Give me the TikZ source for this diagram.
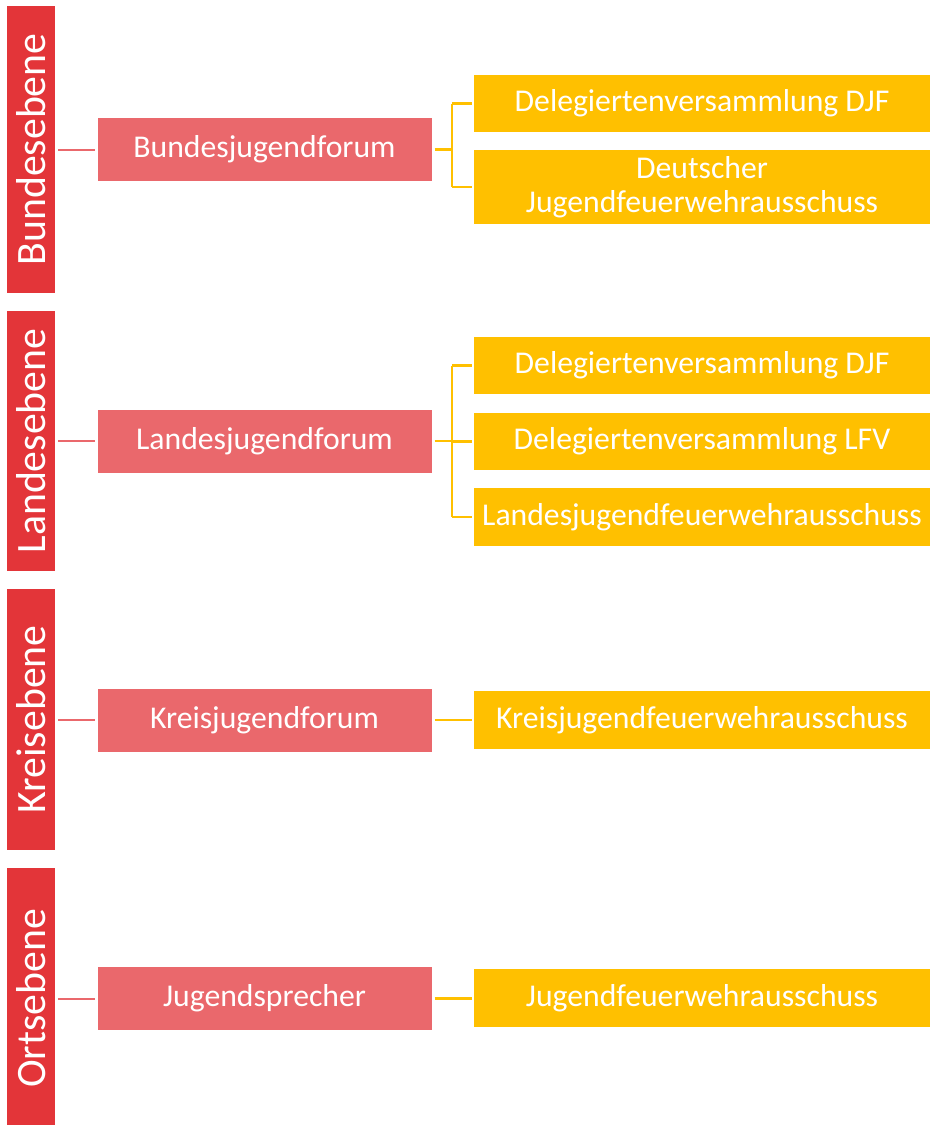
\documentclass[tikz,border=0pt]{standalone}
\usepackage{fontspec}
\setmainfont{Carlito}
\usetikzlibrary{calc}
\definecolor{barred}{HTML}{E33539}
\definecolor{pinkbox}{HTML}{EA686C}
\definecolor{ybox}{HTML}{FFC000}
\tikzset{
  levelbar/.style={fill=barred, draw=none, text=white, rotate=90, inner sep=0pt,
    minimum height=48pt, font=\fontsize{41.8}{44}\selectfont},
  forumbox/.style={fill=pinkbox, draw=none, text=white, inner sep=0pt,
    minimum width=334pt, minimum height=63pt, font=\fontsize{31.7}{34}\selectfont},
  gremium/.style={fill=ybox, draw=none, text=white, inner sep=0pt, align=center,
    minimum width=456pt, font=\fontsize{31.7}{34}\selectfont},
  pinkline/.style={draw=pinkbox, line width=2pt},
  yline/.style={draw=ybox, line width=2.2pt},
}
\begin{document}
\begin{tikzpicture}[x=1pt,y=1pt]
\useasboundingbox (0,0) rectangle (932,-1125);
% level bars
\node[levelbar, minimum width=287pt] (b1) at (31,-149.5) {Bundesebene};
\node[levelbar, minimum width=260pt] (b2) at (31,-441) {Landesebene};
\node[levelbar, minimum width=261pt] (b3) at (31,-719.5) {Kreisebene};
\node[levelbar, minimum width=261pt] (b4) at (31,-998.5) {Ortsebene};
% forum boxes
\node[forumbox] (p1) at (264.5,-149.5) {Bundesjugendforum};
\node[forumbox] (p2) at (264.5,-441) {Landesjugendforum};
\node[forumbox] (p3) at (264.5,-720) {Kreisjugendforum};
\node[forumbox] (p4) at (264.5,-998.5) {Jugendsprecher};
% yellow boxes
\node[gremium, minimum height=57pt] (y1a) at (702,-103.5) {Delegiertenversammlung DJF};
\node[gremium, minimum height=74pt] (y1b) at (702,-187) {Deutscher\\Jugendfeuerwehrausschuss};
\node[gremium, minimum height=57pt] (y2a) at (702,-365.5) {Delegiertenversammlung DJF};
\node[gremium, minimum height=57pt] (y2b) at (702,-441.5) {Delegiertenversammlung LFV};
\node[gremium, minimum height=58pt] (y2c) at (702,-517) {Landesjugendfeuerwehrausschuss};
\node[gremium, minimum height=58pt] (y3) at (702,-720) {Kreisjugendfeuerwehrausschuss};
\node[gremium, minimum height=58pt] (y4) at (702,-998) {Jugendfeuerwehrausschuss};
% pink connectors
\foreach \b/\p in {b1/p1,b2/p2,b3/p3,b4/p4}
  \draw[pinkline, shorten <=3pt, shorten >=2pt] (\b.south |- \p.west) -- (\p.west);
% yellow connectors
\coordinate (j1) at ($(p1.east)+(20.5,0)$);
\coordinate (j2) at ($(p2.east)+(20.5,0)$);
\draw[yline] ([xshift=3pt]p1.east) -- (j1);
\draw[yline] (j1 |- y1a.west) -- (j1 |- y1b.west);
\draw[yline, shorten >=2pt] (j1 |- y1a.west) -- (y1a.west);
\draw[yline, shorten >=2pt] (j1 |- y1b.west) -- (y1b.west);
\draw[yline] ([xshift=3pt]p2.east) -- (j2);
\draw[yline] (j2 |- y2a.west) -- (j2 |- y2c.west);
\draw[yline, shorten >=2pt] (j2 |- y2a.west) -- (y2a.west);
\draw[yline, shorten >=2pt] (j2 |- y2b.west) -- (y2b.west);
\draw[yline, shorten >=2pt] (j2 |- y2c.west) -- (y2c.west);
\draw[yline, shorten <=3pt, shorten >=2pt] (p3.east) -- (p3.east -| y3.west);
\draw[yline, shorten <=3pt, shorten >=2pt] (p4.east) -- (p4.east -| y4.west);
\end{tikzpicture}
\end{document}
